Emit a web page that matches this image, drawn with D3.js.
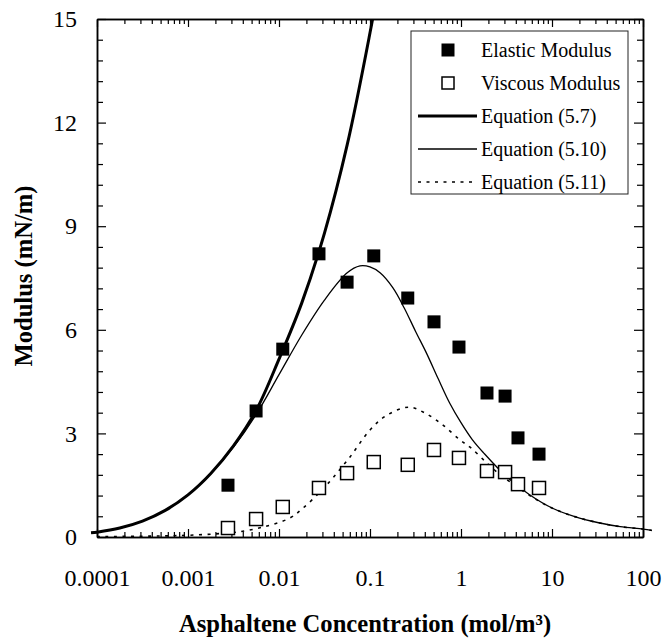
<!DOCTYPE html>
<html>
<head>
<meta charset="utf-8">
<script src="https://cdn.jsdelivr.net/npm/d3@7"></script>
<style>
  html, body { margin: 0; padding: 0; background: #fff; }
  svg { display: block; }
  text { font-family: "Liberation Serif", "Times New Roman", serif; fill: #000; }
</style>
</head>
<body>
<svg id="chart" width="665" height="639"></svg>
<script>
// Measured moduli against asphaltene concentration (mol/m³)
const concentration = [0.00275, 0.0056, 0.011, 0.0275, 0.056, 0.11, 0.26, 0.505, 0.95, 1.93, 3.05, 4.23, 7.2];
const elasticModulus = [1.5, 3.65, 5.44, 8.2, 7.38, 8.14, 6.92, 6.23, 5.5, 4.17, 4.08, 2.87, 2.4];
const viscousModulus = [0.26, 0.52, 0.87, 1.42, 1.85, 2.17, 2.09, 2.52, 2.29, 1.91, 1.88, 1.53, 1.42];

// Model curves, as [concentration, modulus] pairs
const eq57 = [[0.000086, 0.12], [0.0001, 0.14], [0.000178, 0.26], [0.000316, 0.46], [0.000562, 0.77],
  [0.001, 1.22], [0.00178, 1.84], [0.00316, 2.64], [0.00562, 3.67], [0.01, 5.15], [0.0178, 6.78],
  [0.0316, 8.8], [0.0562, 11.36], [0.1, 14.6], [0.133, 16.4]];
const eq510 = [[0.000086, 0.12], [0.0001, 0.14], [0.000178, 0.26], [0.000316, 0.46], [0.000562, 0.77],
  [0.001, 1.22], [0.00178, 1.83], [0.00316, 2.6], [0.00562, 3.55], [0.01, 4.7], [0.0178, 5.85],
  [0.0316, 6.86], [0.0562, 7.65], [0.0776, 7.85], [0.1, 7.82], [0.129, 7.65], [0.178, 7.22],
  [0.237, 6.64], [0.316, 5.96], [0.42, 5.31], [0.562, 4.58], [0.75, 3.88], [1.0, 3.31],
  [1.33, 2.82], [1.78, 2.43], [3.16, 1.75], [5.62, 1.23], [10, 0.84], [17.8, 0.59],
  [31.6, 0.42], [56.2, 0.3], [100, 0.23], [125, 0.19]];
const eq511 = [[0.0001, 0.01], [0.0005, 0.03], [0.001, 0.05], [0.002, 0.09], [0.00345, 0.14],
  [0.0067, 0.29], [0.0132, 0.55], [0.0184, 0.84], [0.0282, 1.3], [0.039, 1.71], [0.0603, 2.32],
  [0.1, 3.1], [0.154, 3.53], [0.268, 3.76], [0.402, 3.59], [0.634, 3.24], [0.975, 2.81],
  [1.26, 2.6], [1.93, 2.14], [2.69, 1.8], [3.45, 1.6], [6.2, 1.14], [10, 0.84], [17.8, 0.59],
  [31.6, 0.42], [56.2, 0.3], [100, 0.23], [125, 0.19]];

const xTickLabels = ["0.0001", "0.001", "0.01", "0.1", "1", "10", "100"];
const xTickValues = [0.0001, 0.001, 0.01, 0.1, 1, 10, 100];
const yTickValues = [0, 3, 6, 9, 12, 15];

const legendItems = [
  { label: "Elastic Modulus", kind: "filled" },
  { label: "Viscous Modulus", kind: "open" },
  { label: "Equation (5.7)", kind: "thick" },
  { label: "Equation (5.10)", kind: "thin" },
  { label: "Equation (5.11)", kind: "dotted" }
];

const svg = d3.select("#chart");
const L = 97, R = 643, T = 19, B = 537;

const x = d3.scaleLog().domain([0.0001, 100]).range([L, R]);
const y = d3.scaleLinear().domain([0, 15]).range([B, T]);

// Minor ticks: log decades 2..9, linear steps of 0.6
const xMinor = x.ticks().filter(v => !xTickValues.some(m => Math.abs(Math.log10(v) - Math.log10(m)) < 1e-6));
const yMinor = d3.range(0, 15.001, 0.6).filter(v => !yTickValues.some(m => Math.abs(v - m) < 1e-6));

const styleAxis = g => {
  g.select(".domain").attr("stroke", "#000").attr("stroke-width", 1.5);
  g.selectAll(".tick line").attr("stroke", "#000").attr("stroke-width", 1.2);
};

// Bottom axis with labels
const xLabel = d3.scaleOrdinal().domain(xTickValues).range(xTickLabels);
svg.append("g").attr("transform", `translate(0,${B})`)
  .call(d3.axisBottom(x).tickValues(xTickValues).tickSize(-8).tickPadding(32).tickFormat(d => xLabel(d)).tickSizeOuter(0))
  .call(styleAxis)
  .call(g => g.selectAll("text").attr("font-size", 24));
svg.append("g").attr("transform", `translate(0,${B})`)
  .call(d3.axisBottom(x).tickValues(xMinor).tickSize(-5).tickFormat("").tickSizeOuter(0))
  .call(styleAxis);

// Top axis
svg.append("g").attr("transform", `translate(0,${T})`)
  .call(d3.axisTop(x).tickValues(xTickValues).tickSize(-8).tickFormat("").tickSizeOuter(0))
  .call(styleAxis);
svg.append("g").attr("transform", `translate(0,${T})`)
  .call(d3.axisTop(x).tickValues(xMinor).tickSize(-5).tickFormat("").tickSizeOuter(0))
  .call(styleAxis);

// Left axis with labels
svg.append("g").attr("transform", `translate(${L},0)`)
  .call(d3.axisLeft(y).tickValues(yTickValues).tickSize(-9).tickPadding(20).tickFormat(d3.format("d")).tickSizeOuter(0))
  .call(styleAxis)
  .call(g => g.selectAll("text").attr("font-size", 24));
svg.append("g").attr("transform", `translate(${L},0)`)
  .call(d3.axisLeft(y).tickValues(yMinor).tickSize(-6).tickFormat("").tickSizeOuter(0))
  .call(styleAxis);

// Right axis
svg.append("g").attr("transform", `translate(${R},0)`)
  .call(d3.axisRight(y).tickValues(yTickValues).tickSize(-9).tickFormat("").tickSizeOuter(0))
  .call(styleAxis);
svg.append("g").attr("transform", `translate(${R},0)`)
  .call(d3.axisRight(y).tickValues(yMinor).tickSize(-6).tickFormat("").tickSizeOuter(0))
  .call(styleAxis);

// Axis titles
svg.append("text")
  .attr("x", 365).attr("y", 632)
  .attr("text-anchor", "middle").attr("font-size", 24.6).attr("font-weight", "bold")
  .text("Asphaltene Concentration (mol/m³)");
svg.append("text")
  .attr("transform", "translate(32,276) rotate(-90)")
  .attr("text-anchor", "middle").attr("font-size", 24.6).attr("font-weight", "bold")
  .text("Modulus (mN/m)");

// Curves
svg.append("clipPath").attr("id", "plotClip")
  .append("rect").attr("x", L - 10).attr("y", T).attr("width", R - L + 20).attr("height", B - T + 10);

const line = d3.line().x(d => x(d[0])).y(d => y(d[1])).curve(d3.curveCatmullRom.alpha(0.5));
const curves = svg.append("g").attr("clip-path", "url(#plotClip)");
curves.append("path").datum(eq511).attr("d", line)
  .attr("fill", "none").attr("stroke", "#000").attr("stroke-width", 1.6).attr("stroke-dasharray", "3,5.5");
curves.append("path").datum(eq510).attr("d", line)
  .attr("fill", "none").attr("stroke", "#000").attr("stroke-width", 1.3);
curves.append("path").datum(eq57).attr("d", line)
  .attr("fill", "none").attr("stroke", "#000").attr("stroke-width", 3);

// Measured points
const S = 13;
svg.append("g").selectAll("rect").data(concentration.map((c, i) => [c, viscousModulus[i]]))
  .join("rect")
  .attr("x", d => x(d[0]) - S / 2).attr("y", d => y(d[1]) - S / 2)
  .attr("width", S).attr("height", S)
  .attr("fill", "#fff").attr("stroke", "#000").attr("stroke-width", 1.5);
svg.append("g").selectAll("rect").data(concentration.map((c, i) => [c, elasticModulus[i]]))
  .join("rect")
  .attr("x", d => x(d[0]) - S / 2).attr("y", d => y(d[1]) - S / 2)
  .attr("width", S).attr("height", S)
  .attr("fill", "#000");

// Legend
const lg = svg.append("g");
lg.append("rect").attr("x", 411).attr("y", 31).attr("width", 217).attr("height", 163)
  .attr("fill", "#fff").attr("stroke", "#222").attr("stroke-width", 1);
const rowY = i => 50 + i * 33;
legendItems.forEach((it, i) => {
  const cy = rowY(i);
  if (it.kind === "filled") {
    lg.append("rect").attr("x", 448 - 6.5).attr("y", cy - 6.5).attr("width", 13).attr("height", 13).attr("fill", "#000");
  } else if (it.kind === "open") {
    lg.append("rect").attr("x", 448 - 6).attr("y", cy - 6).attr("width", 12).attr("height", 12)
      .attr("fill", "#fff").attr("stroke", "#000").attr("stroke-width", 1.5);
  } else {
    const sw = it.kind === "thick" ? 3 : (it.kind === "thin" ? 1.3 : 1.6);
    const l = lg.append("line").attr("x1", 418).attr("x2", 477).attr("y1", cy).attr("y2", cy)
      .attr("stroke", "#000").attr("stroke-width", sw);
    if (it.kind === "dotted") l.attr("stroke-dasharray", "3,5.5");
  }
  lg.append("text").attr("x", 481).attr("y", cy + 7).attr("font-size", 20).text(it.label);
});
</script>
</body>
</html>
